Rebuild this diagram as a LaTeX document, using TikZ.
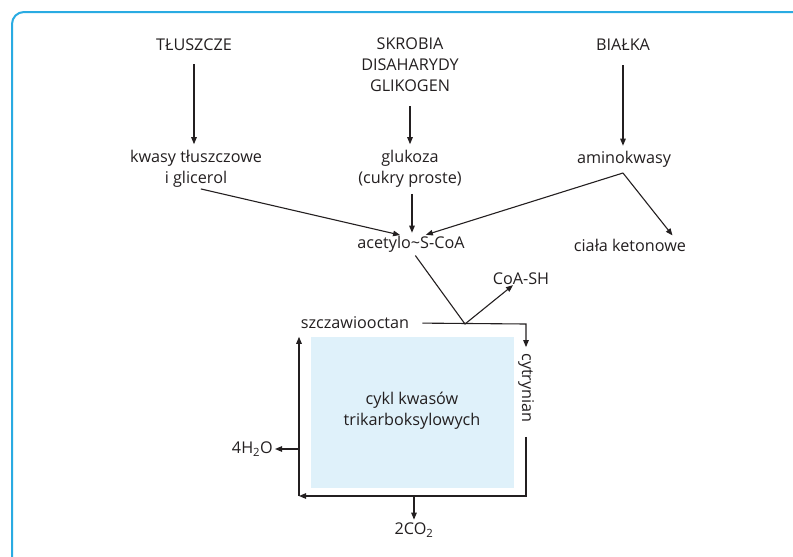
\documentclass[tikz,border=0pt]{standalone}
\usepackage{fontspec}
\setmainfont{Open Sans}
\usetikzlibrary{arrows.meta}
\definecolor{framecyan}{RGB}{41,171,226}
\definecolor{cyclefill}{RGB}{223,241,250}
\definecolor{ink}{RGB}{35,31,32}
\begin{document}
\begin{tikzpicture}[x=1pt,y=-1pt,
  lbl/.style={inner sep=0pt, text=ink, font=\fontsize{16.2}{21}\selectfont, align=center},
  link/.style={draw=ink, line width=1.1pt},
  arr/.style={link, -{Triangle[length=7pt,width=5.5pt]}}]
\useasboundingbox (0,0) rectangle (793,557);
% outer frame
\draw[framecyan, line width=2pt, rounded corners=12pt] (12,560) -- (12,12) -- (796,12);

% sources
\node[lbl] (tl) at (194,45) {TŁUSZCZE};
\node[lbl] (sk) at (410,65) {SKROBIA\\DISAHARYDY\\GLIKOGEN};
\node[lbl] (bi) at (623,45) {BIAŁKA};

% intermediates
\node[lbl] (kw) at (196,169) {kwasy tłuszczowe\\i glicerol};
\node[lbl] (gl) at (410,169) {glukoza\\(cukry proste)};
\node[lbl] (am) at (624,159) {aminokwasy};
\node[lbl] (ac) at (411,244) {acetylo\textasciitilde S-CoA};
\node[lbl] (ck) at (630,245) {ciała ketonowe};
\node[lbl] (coa) at (521,279) {CoA-SH};

% citric acid cycle
\node[fill=cyclefill, minimum width=203pt, minimum height=151pt, inner sep=0pt] (box) at (412.5,412.5) {};
\node[lbl] (cyk) at (412,411) {cykl kwasów\\trikarboksylowych};
\node[lbl] (sz) at (355,323) {szczawiooctan};
\node[lbl, rotate=-90] (cy) at (526,388) {cytrynian};
\node[lbl, anchor=east] (h2o) at (273,449) {4H\textsubscript{2}O};
\node[lbl] (co2) at (414,530) {2CO\textsubscript{2}};

\coordinate (amv) at (623,173);
\coordinate (vx) at (465,324);
\coordinate (tr) at (526,324);
\coordinate (br) at (526,496);
\coordinate (bl) at (299,496);

% arrows from the sources
\draw[arr, shorten <=13pt, shorten >=6pt] (tl.south) -- (tl.south |- kw.north);
\draw[arr, shorten <=14pt, shorten >=6pt] (sk.south) -- (sk.south |- gl.north);
\draw[arr, shorten <=14pt, shorten >=5pt] (bi.south -| amv) -- (amv |- am.north);

\draw[arr, shorten <=5pt, shorten >=3pt] (kw.south) -- ([xshift=-8pt]ac.north);
\draw[arr, shorten <=6pt, shorten >=3pt] ([xshift=2pt]gl.south) -- ([xshift=1pt]ac.north);
\draw[arr, shorten >=3pt] (amv) -- ([xshift=12pt]ac.north);
\draw[arr, shorten >=4pt] (amv) -- ([xshift=45pt]ck.north);

% entry into the cycle
\draw[arr, shorten <=4pt] ([xshift=2pt]ac.south) -- (vx) -- ([xshift=-8pt]coa.south);
\draw[arr, shorten <=13pt, shorten >=6pt] (sz.east) -- (tr) -- (cy.west);

% around the cycle
\draw[arr, shorten <=14pt] (cy.east) -- (br) -- (bl);
\draw[arr] (bl) -- (bl |- box.north);
\draw[arr, shorten >=2pt] (bl |- h2o.east) -- (h2o.east);
\draw[arr, shorten >=3pt] (co2 |- bl) -- (co2.north);
\end{tikzpicture}
\end{document}
